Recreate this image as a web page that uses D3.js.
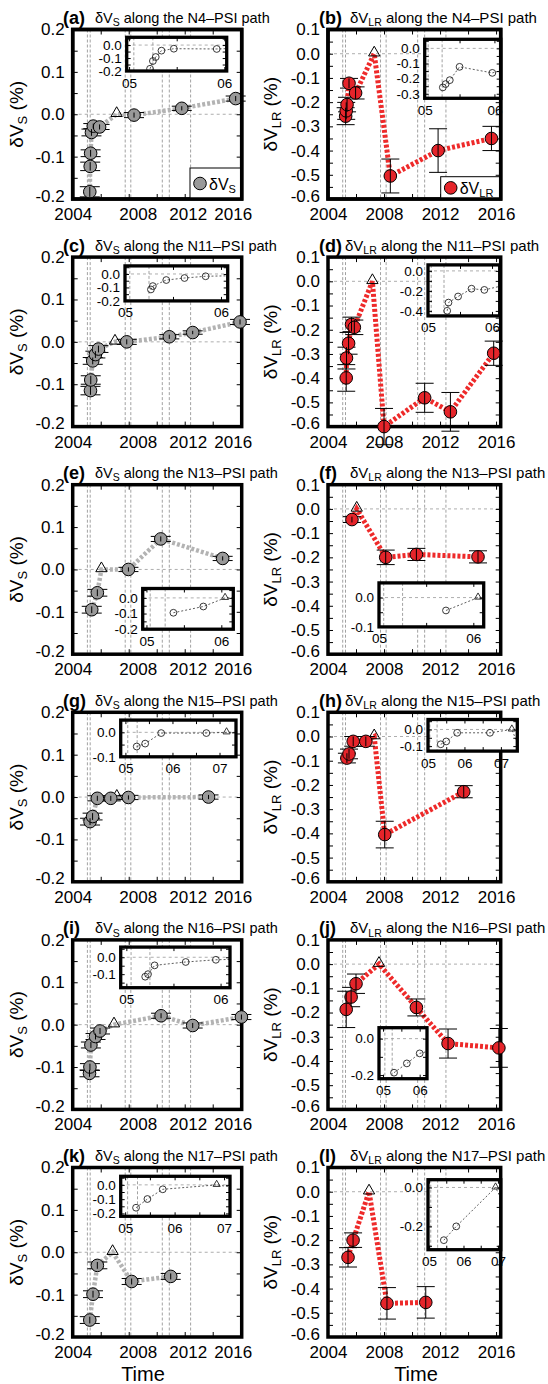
<!DOCTYPE html>
<html><head><meta charset="utf-8">
<script src="https://cdn.jsdelivr.net/npm/d3@7"></script>
<style>
body{margin:0;background:#fff}
svg{font-family:"Liberation Sans",Arial,Helvetica,sans-serif}
</style>
</head><body><script>
// event times shown as vertical dashed lines
var events = [2005.05, 2005.25, 2007.75, 2008.15, 2010.4, 2010.9, 2012.42];

// [year, value (%), error]  -- reference survey (triangle) sits at 0
var a_pts = [[2005.22,-0.183,0.012],[2005.25,-0.123,0.01],[2005.28,-0.092,0.008],[2005.34,-0.043,0.008],[2005.47,-0.028,0.006],[2005.92,-0.03,0.006],[2008.38,-0.002,0.006],[2011.79,0.014,0.005],[2015.64,0.037,0.006]];
var a_ref = 2007.14;
var b_pts = [[2005.26,-0.258,0.035],[2005.3,-0.236,0.035],[2005.36,-0.21,0.03],[2005.5,-0.122,0.02],[2005.97,-0.162,0.025],[2008.45,-0.505,0.07],[2011.86,-0.4,0.09],[2015.67,-0.35,0.05]];
var b_ref = 2007.3;
var c_pts = [[2005.27,-0.115,0.01],[2005.29,-0.09,0.01],[2005.43,-0.045,0.008],[2005.62,-0.03,0.008],[2005.84,-0.017,0.008],[2007.86,0.0,0.006],[2010.9,0.012,0.005],[2012.57,0.022,0.004],[2015.95,0.047,0.006]];
var c_ref = 2007.02;
var d_pts = [[2005.3,-0.399,0.055],[2005.32,-0.317,0.045],[2005.47,-0.256,0.045],[2005.68,-0.178,0.03],[2005.88,-0.19,0.03],[2008.0,-0.6,0.075],[2010.9,-0.481,0.06],[2012.74,-0.539,0.08],[2015.83,-0.297,0.05]];
var d_ref = 2007.17;
var e_pts = [[2005.36,-0.095,0.008],[2005.76,-0.055,0.008],[2007.98,0.0,0.005],[2010.29,0.072,0.006],[2014.71,0.026,0.005]];
var e_ref = 2006.05;
var f_pts = [[2005.71,-0.044,0.012],[2008.12,-0.2,0.03],[2010.31,-0.188,0.025],[2014.71,-0.198,0.025]];
var f_ref = 2006.05;
var g_pts = [[2005.24,-0.058,0.008],[2005.42,-0.046,0.008],[2005.76,-0.003,0.006],[2006.72,-0.003,0.006],[2007.98,-0.001,0.005],[2013.7,0.0,0.005]];
var g_ref = 2007.15;
var h_pts = [[2005.35,-0.089,0.02],[2005.5,-0.072,0.02],[2005.8,-0.02,0.02],[2006.7,-0.02,0.02],[2008.05,-0.405,0.055],[2013.69,-0.228,0.025]];
var h_ref = 2007.3;
var i_pts = [[2005.2,-0.115,0.008],[2005.23,-0.1,0.008],[2005.3,-0.048,0.007],[2005.63,-0.028,0.007],[2005.95,-0.015,0.007],[2010.31,0.021,0.006],[2012.57,-0.002,0.006],[2016.05,0.018,0.006]];
var i_ref = 2006.95;
var j_pts = [[2005.3,-0.187,0.075],[2005.65,-0.136,0.04],[2006.0,-0.081,0.04],[2010.31,-0.179,0.035],[2012.57,-0.328,0.06],[2016.2,-0.346,0.08]];
var j_ref = 2007.64;
var k_pts = [[2005.22,-0.16,0.008],[2005.45,-0.099,0.008],[2005.76,-0.031,0.008],[2008.21,-0.069,0.007],[2011.0,-0.057,0.007]];
var k_ref = 2006.85;
var l_pts = [[2005.43,-0.271,0.04],[2005.79,-0.2,0.03],[2008.21,-0.461,0.065],[2010.98,-0.457,0.065]];
var l_ref = 2006.93;

var paths = ["N4","N11","N13","N15","N16","N17"];

// panel list: inset box is [x0, x1, y0, y1] in page px (y relative to row)
var panels = [
  {id:"a", kind:"S",  row:0, pts:a_pts, ref:a_ref, legend:true,
   ins:{box:[126.7,226.7,37.3,71],   xd:[2004.975,2006.025], yd:[-0.2,0.06],  yl:[0,-0.1,-0.2], xl:[2005,2006]}},
  {id:"b", kind:"LR", row:0, pts:b_pts, ref:b_ref, legend:true,
   ins:{box:[424.7,500.7,39.3,98.3], xd:[2005,2006.09],      yd:[-0.33,0.06], yl:[0,-0.1,-0.2,-0.3], xl:[2005,2006]}},
  {id:"c", kind:"S",  row:1, pts:c_pts, ref:c_ref,
   ins:{box:[125,227.7,38.3,73.3],   xd:[2005,2006.07],      yd:[-0.2,0.06],  yl:[0,-0.1,-0.2], xl:[2005,2006]}},
  {id:"d", kind:"LR", row:1, pts:d_pts, ref:d_ref, tight:true,
   ins:{box:[428,499.7,37.3,88.3],   xd:[2005,2006.12],      yd:[-0.45,0.06], yl:[0,-0.2,-0.4], xl:[2005,2006]}},
  {id:"e", kind:"S",  row:2, pts:e_pts, ref:e_ref,
   ins:{box:[142.7,233.3,133.3,174], xd:[2004.95,2006.16],   yd:[-0.2,0.06],  yl:[0,-0.1,-0.2], xl:[2005,2006]}},
  {id:"f", kind:"LR", row:2, pts:f_pts, ref:f_ref,
   ins:{box:[379,483.7,127.7,171.7], xd:[2005,2006.11],      yd:[-0.1,0.05],  yl:[0,-0.1], xl:[2005,2006]}},
  {id:"g", kind:"S",  row:3, pts:g_pts, ref:g_ref,
   ins:{box:[120.7,236,37.3,74],     xd:[2004.9,2007.35],    yd:[-0.1,0.05],  yl:[0,-0.1], xl:[2005,2006,2007]}},
  {id:"h", kind:"LR", row:3, pts:h_pts, ref:h_ref, tight:true,
   ins:{box:[428,517.3,36.7,68.3],   xd:[2005,2007.45],      yd:[-0.13,0.06], yl:[0,-0.1], xl:[2005,2006,2007]}},
  {id:"i", kind:"S",  row:4, pts:i_pts, ref:i_ref,
   ins:{box:[120.7,230,36.7,77.3],   xd:[2004.94,2006.1],    yd:[-0.18,0.06], yl:[0,-0.1], xl:[2005,2006]}},
  {id:"j", kind:"LR", row:4, pts:j_pts, ref:j_ref,
   ins:{box:[379,427,117.3,168.3],   xd:[2004.89,2006.2],    yd:[-0.22,0.06], yl:[0,-0.2], xl:[2005,2006]}},
  {id:"k", kind:"S",  row:5, pts:k_pts, ref:k_ref,
   ins:{box:[120.7,230,38.3,78.3],   xd:[2004.91,2007.12],   yd:[-0.22,0.06], yl:[0,-0.1,-0.2], xl:[2005,2006,2007]}},
  {id:"l", kind:"LR", row:5, pts:l_pts, ref:l_ref,
   ins:{box:[428,500.7,41.7,111.7],  xd:[2004.97,2007.08],   yd:[-0.32,0.04], yl:[0,-0.2], xl:[2005,2006,2007]}}
];

var W = 548, H = 1384, rowH = 227.6, top0 = 29.5, bot0 = 199;
var cols = {
  S:  {x0:72.7, x1:241.7, end:2016.07, lab:63,  tx:95,  tsz:14.5, ylx:16,  fill:"#999", line:"#b3b3b3", cap:10, sub:"S",
       ldx:{2004:0, 2008:9, 2012:3, 2016:-8}, timeX:143},
  LR: {x0:328,  x1:500.7, end:2016.33, lab:319, tx:350, tsz:15,   ylx:270, fill:"#e5242a", line:"#ee2a2a", cap:9, sub:"LR",
       ldx:{2004:0, 2008:0, 2012:0, 2016:0}, timeX:416}
};

var svg = d3.select("body").append("svg").attr("width", W).attr("height", H);

function fmt(v) {
  return (v < -1e-9 ? "-" : "") + Math.abs(v).toFixed(1);
}

function vText(sel, sub, rest, big, small) {
  sel.append("tspan").text("δV");
  sel.append("tspan").attr("font-size", small).attr("dy", big * 0.22).text(sub);
  sel.append("tspan").attr("dy", -big * 0.22).text(rest);
}

var tri = d3.symbol().type(d3.symbolTriangle);

panels.forEach(function(p, pi) {
  var col = cols[p.kind];
  var g = svg.append("g").attr("transform", "translate(0," + (p.row * rowH) + ")");
  var x = d3.scaleLinear().domain([2004, col.end]).range([col.x0, col.x1]);
  var y = d3.scaleLinear().domain(p.kind == "S" ? [-0.2, 0.2] : [-0.6, 0.1]).range([bot0, top0]);

  // title
  g.append("text").attr("x", col.lab).attr("y", 24).attr("font-size", 18).attr("font-weight", "bold")
    .text("(" + p.id + ")");
  var t = g.append("text").attr("x", p.tight ? col.tx - 5 : col.tx).attr("y", 23).attr("font-size", col.tsz);
  vText(t, col.sub, " along the " + paths[p.row] + "\u2013PSI path", col.tsz, 10.5);

  // y title
  var yt = g.append("text").attr("transform", "translate(" + col.ylx + "," + ((top0 + bot0) / 2) + ") rotate(-90)")
    .attr("text-anchor", "middle").attr("dy", "0.35em").attr("font-size", 19);
  vText(yt, col.sub, " (%)", 19, 13);

  // grid
  g.selectAll(".ev").data(events).enter().append("line")
    .attr("x1", d => x(d)).attr("x2", d => x(d)).attr("y1", top0).attr("y2", bot0)
    .attr("stroke", "#8a8a8a").attr("stroke-width", 0.8).attr("stroke-dasharray", "3,2");
  g.append("line").attr("x1", col.x0).attr("x2", col.x1).attr("y1", y(0)).attr("y2", y(0))
    .attr("stroke", "#999").attr("stroke-width", 0.8).attr("stroke-dasharray", "3,3");

  // axes
  var ydom = y.domain();
  var yticks = d3.range(Math.round(ydom[0] * 20), Math.round(ydom[1] * 20) + 1).map(k => k / 20);
  var isMaj = v => Math.abs(Math.round(v * 20)) % 2 == 0;
  g.append("g").attr("class", "yax").attr("transform", "translate(" + col.x0 + ",0)")
    .call(d3.axisLeft(y).tickValues(yticks).tickSizeInner(-5).tickSizeOuter(0).tickPadding(8)
      .tickFormat(v => isMaj(v) ? fmt(v) : ""));
  g.append("g").attr("transform", "translate(" + col.x1 + ",0)")
    .call(d3.axisRight(y).tickValues(yticks).tickSizeInner(-5).tickSizeOuter(0).tickFormat(""));
  var xticks = d3.range(2004, 2017, 2);
  g.append("g").attr("class", "xax").attr("transform", "translate(0," + bot0 + ")")
    .call(d3.axisBottom(x).tickValues(xticks).tickSizeInner(-5).tickSizeOuter(0).tickPadding(9)
      .tickFormat(v => (v % 4 == 0) ? String(v) : ""));
  g.append("g").attr("transform", "translate(0," + top0 + ")")
    .call(d3.axisTop(x).tickValues(xticks).tickSizeInner(-5).tickSizeOuter(0).tickFormat(""));
  g.selectAll(".domain").remove();
  g.selectAll(".tick line").attr("stroke", "#000").attr("stroke-width", 1);
  g.selectAll(".tick text").attr("font-size", 17).attr("fill", "#000").attr("font-family", null);
  g.select(".xax").selectAll(".tick text").attr("dx", v => col.ldx[v] || 0);
  // lowest y label sits just above the frame corner
  g.select(".yax").selectAll(".tick text").filter(v => Math.abs(v - ydom[0]) < 1e-6).attr("dy", "0.12em");

  // frame
  g.append("rect").attr("x", col.x0).attr("y", top0).attr("width", col.x1 - col.x0).attr("height", bot0 - top0)
    .attr("fill", "none").attr("stroke", "#000").attr("stroke-width", 3.5);

  if (p.row == 5) {
    g.append("text").attr("x", col.timeX).attr("y", 243).attr("text-anchor", "middle")
      .attr("font-size", 20).text("Time");
  }

  // inset
  drawInset(g, p, pi);

  // series
  var series = p.pts.map(d => [d[0], d[1]]).concat([[p.ref, 0]]).sort((a, b) => a[0] - b[0]);
  g.append("path").datum(series)
    .attr("d", d3.line().x(d => x(d[0])).y(d => y(d[1])))
    .attr("fill", "none").attr("stroke", col.line).attr("stroke-width", p.kind == "S" ? 4.5 : 5)
    .attr("stroke-dasharray", "3,2");

  var eb = g.append("g").attr("stroke", "#000").attr("stroke-width", 1);
  p.pts.forEach(function(d) {
    var xx = x(d[0]), y1 = y(d[1] + d[2]), y2 = y(d[1] - d[2]);
    eb.append("line").attr("x1", xx - col.cap).attr("x2", xx + col.cap).attr("y1", y1).attr("y2", y1);
    eb.append("line").attr("x1", xx - col.cap).attr("x2", xx + col.cap).attr("y1", y2).attr("y2", y2);
  });

  g.append("path").attr("d", tri.size(55)()).attr("transform", "translate(" + x(p.ref) + "," + (y(0) - 1) + ")")
    .attr("fill", "none").attr("stroke", "#000").attr("stroke-width", 1);

  g.selectAll(".pt").data(p.pts).enter().append("circle")
    .attr("cx", d => x(d[0])).attr("cy", d => y(d[1])).attr("r", 6.3)
    .attr("fill", col.fill).attr("stroke", "#000").attr("stroke-width", 1);
  // error bar stems drawn over the marker
  var eb2 = g.append("g").attr("stroke", "#000").attr("stroke-width", 1);
  p.pts.forEach(function(d) {
    var xx = x(d[0]);
    eb2.append("line").attr("x1", xx).attr("x2", xx).attr("y1", y(d[1] + d[2])).attr("y2", y(d[1] - d[2]));
  });

  if (p.legend) {
    var lb = p.kind == "S" ? [190, 168] : [440.7, 176.7];
    g.append("rect").attr("x", lb[0]).attr("y", lb[1]).attr("width", col.x1 - lb[0]).attr("height", bot0 - lb[1])
      .attr("fill", "#fff").attr("stroke", "#000").attr("stroke-width", 1);
    var cy = (lb[1] + bot0) / 2;
    g.append("circle").attr("cx", lb[0] + 10).attr("cy", cy).attr("r", 6.3)
      .attr("fill", col.fill).attr("stroke", "#000");
    var lt = g.append("text").attr("x", lb[0] + 19).attr("y", cy + 6).attr("font-size", 16);
    vText(lt, col.sub, "", 16, 11);
    g.append("rect").attr("x", col.x0).attr("y", top0).attr("width", col.x1 - col.x0).attr("height", bot0 - top0)
      .attr("fill", "none").attr("stroke", "#000").attr("stroke-width", 3.5);
  }
});

function drawInset(g, p, pi) {
  var s = p.ins, b = s.box;
  var ix = d3.scaleLinear().domain(s.xd).range([b[0], b[1]]);
  var iy = d3.scaleLinear().domain(s.yd).range([b[3], b[2]]);
  var ig = g.append("g");
  ig.append("rect").attr("x", b[0]).attr("y", b[2]).attr("width", b[1] - b[0]).attr("height", b[3] - b[2])
    .attr("fill", "#fff");
  var cid = "clip" + pi;
  ig.append("clipPath").attr("id", cid).append("rect")
    .attr("x", b[0]).attr("y", b[2]).attr("width", b[1] - b[0]).attr("height", b[3] - b[2]);
  var inner = ig.append("g").attr("clip-path", "url(#" + cid + ")");
  inner.selectAll(".iev").data(events.filter(e => e > s.xd[0] && e < s.xd[1])).enter().append("line")
    .attr("x1", d => ix(d)).attr("x2", d => ix(d)).attr("y1", b[2]).attr("y2", b[3])
    .attr("stroke", "#8a8a8a").attr("stroke-width", 0.8).attr("stroke-dasharray", "3,2");
  inner.append("line").attr("x1", b[0]).attr("x2", b[1]).attr("y1", iy(0)).attr("y2", iy(0))
    .attr("stroke", "#999").attr("stroke-width", 0.8).attr("stroke-dasharray", "3,3");

  var series = p.pts.map(d => [d[0], d[1]]).concat([[p.ref, 0]]).sort((a, c) => a[0] - c[0]);
  inner.append("path").datum(series)
    .attr("d", d3.line().x(d => ix(d[0])).y(d => iy(d[1])))
    .attr("fill", "none").attr("stroke", "#333").attr("stroke-width", 0.8).attr("stroke-dasharray", "2,2");
  var inPts = p.pts.filter(d => d[0] >= s.xd[0] && d[0] <= s.xd[1]);
  inner.selectAll(".ip").data(inPts).enter().append("circle")
    .attr("cx", d => ix(d[0])).attr("cy", d => iy(d[1])).attr("r", 3.4)
    .attr("fill", "none").attr("stroke", "#222").attr("stroke-width", 0.9);
  if (p.ref >= s.xd[0] && p.ref <= s.xd[1]) {
    inner.append("path").attr("d", tri.size(22)()).attr("transform", "translate(" + ix(p.ref) + "," + (iy(0) - 0.5) + ")")
      .attr("fill", "none").attr("stroke", "#222").attr("stroke-width", 0.9);
  }

  // axes
  var step = s.yl.length > 1 ? Math.abs(s.yl[1] - s.yl[0]) / 2 : 0.05;
  var yt = d3.range(Math.ceil(s.yd[0] / step - 1e-6), Math.floor(s.yd[1] / step + 1e-6) + 1).map(k => +(k * step).toFixed(3));
  var labs = s.yl.map(v => +v.toFixed(3));
  ig.append("g").attr("transform", "translate(" + b[0] + ",0)")
    .call(d3.axisLeft(iy).tickValues(yt).tickSizeInner(-4).tickSizeOuter(0).tickPadding(5)
      .tickFormat(v => labs.indexOf(v) >= 0 ? fmt(v) : ""));
  ig.append("g").attr("transform", "translate(" + b[1] + ",0)")
    .call(d3.axisRight(iy).tickValues(yt).tickSizeInner(-4).tickSizeOuter(0).tickFormat(""));
  var xt = d3.range(Math.ceil(s.xd[0] * 2 - 1e-6), Math.floor(s.xd[1] * 2 + 1e-6) + 1).map(k => k / 2);
  ig.append("g").attr("class", "ixax").attr("transform", "translate(0," + b[3] + ")")
    .call(d3.axisBottom(ix).tickValues(xt).tickSizeInner(-4).tickSizeOuter(0).tickPadding(7)
      .tickFormat(v => s.xl.indexOf(v) >= 0 ? d3.format("02d")(v - 2000) : ""));
  ig.append("g").attr("transform", "translate(0," + b[2] + ")")
    .call(d3.axisTop(ix).tickValues(xt).tickSizeInner(-4).tickSizeOuter(0).tickFormat(""));
  ig.selectAll(".domain").remove();
  ig.selectAll(".tick line").attr("stroke", "#000");
  ig.selectAll(".tick text").attr("font-size", 13.5).attr("fill", "#000").attr("font-family", null);

  ig.append("rect").attr("x", b[0]).attr("y", b[2]).attr("width", b[1] - b[0]).attr("height", b[3] - b[2])
    .attr("fill", "none").attr("stroke", "#000").attr("stroke-width", 3.3);
}
</script></body></html>
